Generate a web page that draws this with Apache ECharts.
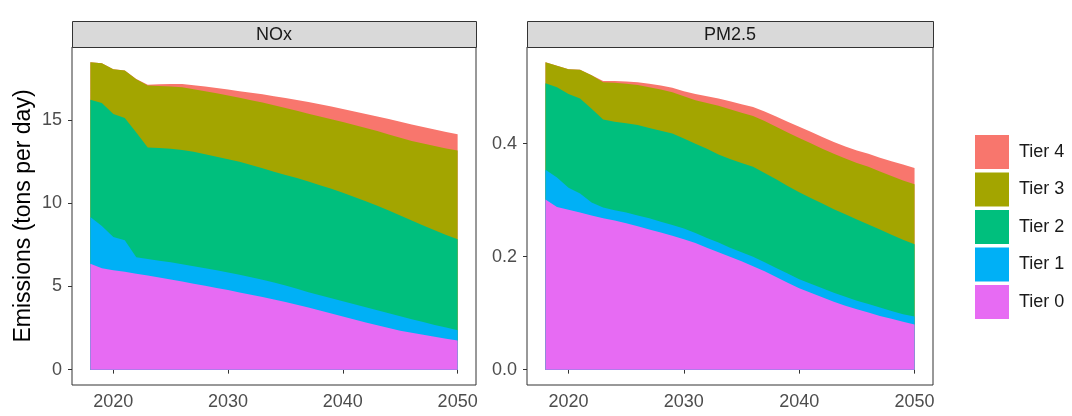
<!DOCTYPE html>
<html>
<head>
<meta charset="utf-8">
<script src="https://cdn.jsdelivr.net/npm/echarts@6/dist/echarts.min.js"></script>
<style>
  html, body { margin: 0; padding: 0; background: #ffffff; }
  #chart { width: 1072px; height: 416px; }
</style>
</head>
<body>
<div id="chart"></div>
<script>
// Projected emissions by engine tier, 2018-2050
const years = [2018, 2019, 2020, 2021, 2022, 2023, 2024, 2025, 2026, 2027, 2028,
  2029, 2030, 2031, 2032, 2033, 2034, 2035, 2036, 2037, 2038, 2039, 2040, 2041,
  2042, 2043, 2044, 2045, 2046, 2047, 2048, 2049, 2050];

const tierNames = ['Tier 0', 'Tier 1', 'Tier 2', 'Tier 3', 'Tier 4'];
const panelTitles = ['NOx', 'PM2.5'];
const xTicks = [2020, 2030, 2040, 2050];
const noxTicks = [0, 5, 10, 15];
const pmTicks = [0, 0.2, 0.4];

// NOx, tons per day
const noxTier0 = [6.37, 6.10, 5.98, 5.88, 5.77, 5.66, 5.54, 5.42, 5.30, 5.17, 5.04,
  4.91, 4.78, 4.64, 4.50, 4.36, 4.21, 4.06, 3.90, 3.73, 3.55, 3.37, 3.19, 3.01,
  2.84, 2.67, 2.50, 2.34, 2.21, 2.09, 1.97, 1.86, 1.75];
const noxTier1 = [2.81, 2.53, 1.99, 1.89, 0.98, 0.99, 1.01, 1.03, 1.04, 1.05, 1.06,
  1.06, 1.06, 1.06, 1.05, 1.04, 1.03, 1.00, 0.96, 0.92, 0.92, 0.92, 0.92, 0.92,
  0.91, 0.90, 0.89, 0.87, 0.82, 0.77, 0.72, 0.67, 0.62];
const noxTier2 = [7.04, 7.39, 7.39, 7.35, 7.51, 6.70, 6.77, 6.82, 6.86, 6.88, 6.85,
  6.83, 6.81, 6.80, 6.75, 6.70, 6.66, 6.64, 6.66, 6.66, 6.62, 6.58, 6.52, 6.45,
  6.37, 6.28, 6.17, 6.05, 5.93, 5.81, 5.69, 5.57, 5.46];
const noxTier3 = [2.25, 2.39, 2.69, 2.86, 3.19, 3.73, 3.73, 3.75, 3.77, 3.76, 3.79,
  3.81, 3.83, 3.84, 3.90, 3.95, 3.99, 4.03, 4.04, 4.07, 4.13, 4.18, 4.25, 4.32,
  4.40, 4.49, 4.58, 4.68, 4.79, 4.92, 5.06, 5.19, 5.34];
const noxTier4 = [0, 0, 0, 0, 0.02, 0.05, 0.10, 0.15, 0.20, 0.24, 0.28,
  0.32, 0.36, 0.40, 0.45, 0.50, 0.55, 0.60, 0.65, 0.70, 0.73, 0.76, 0.79, 0.82,
  0.85, 0.88, 0.92, 0.96, 0.99, 1.00, 1.00, 1.00, 0.98];

// PM2.5, tons per day
const pmTier0 = [0.301, 0.288, 0.283, 0.278, 0.273, 0.268, 0.264, 0.259, 0.254, 0.248, 0.243,
  0.237, 0.231, 0.224, 0.216, 0.208, 0.200, 0.192, 0.183, 0.174, 0.164, 0.154, 0.144, 0.136,
  0.128, 0.120, 0.113, 0.107, 0.101, 0.095, 0.090, 0.085, 0.080];
const pmTier1 = [0.053, 0.052, 0.039, 0.034, 0.023, 0.019, 0.018, 0.019, 0.019, 0.020, 0.019,
  0.019, 0.019, 0.018, 0.017, 0.017, 0.016, 0.016, 0.017, 0.016, 0.016, 0.016, 0.016, 0.016,
  0.016, 0.016, 0.016, 0.015, 0.015, 0.015, 0.014, 0.013, 0.014];
const pmTier2 = [0.153, 0.160, 0.166, 0.168, 0.166, 0.156, 0.157, 0.158, 0.160, 0.160, 0.161,
  0.162, 0.159, 0.158, 0.158, 0.156, 0.157, 0.158, 0.159, 0.158, 0.157, 0.155, 0.154, 0.152,
  0.150, 0.148, 0.146, 0.144, 0.141, 0.138, 0.135, 0.132, 0.128];
const pmTier3 = [0.037, 0.038, 0.044, 0.051, 0.059, 0.066, 0.069, 0.070, 0.071, 0.072, 0.073,
  0.073, 0.075, 0.077, 0.081, 0.086, 0.088, 0.089, 0.090, 0.092, 0.093, 0.095, 0.096, 0.097,
  0.097, 0.098, 0.099, 0.100, 0.102, 0.103, 0.104, 0.105, 0.106];
const pmTier4 = [0, 0, 0, 0, 0, 0.002, 0.003, 0.004, 0.005, 0.006, 0.007,
  0.008, 0.009, 0.011, 0.012, 0.013, 0.014, 0.015, 0.016, 0.017, 0.018, 0.019, 0.020, 0.020,
  0.021, 0.021, 0.021, 0.022, 0.023, 0.024, 0.026, 0.028, 0.029];

const tierColors = ['#E76BF3', '#00B0F6', '#00BF7D', '#A3A500', '#F8766D'];

const FONT = '"Liberation Sans", Arial, sans-serif';
const W = 1072, H = 416;
// panel boxes (left, right edges), shared top/bottom
const panels = [{ l: 72, r: 476 }, { l: 527, r: 933 }];
const panelTop = 47, panelBottom = 385, stripTop = 21;

// ggplot-style 5% expansion around the data range
function expanded(lo, hi) {
  const pad = (hi - lo) * 0.05;
  return [lo - pad, hi + pad];
}
// running totals: tier k's upper edge is the sum of tiers 0..k
function cumulative(groups) {
  const out = [];
  let acc = years.map(() => 0);
  groups.forEach(g => {
    acc = acc.map((a, i) => a + g[i]);
    out.push(acc.slice());
  });
  return out;
}

const noxGroups = [noxTier0, noxTier1, noxTier2, noxTier3, noxTier4];
const pmGroups = [pmTier0, pmTier1, pmTier2, pmTier3, pmTier4];
const noxTops = cumulative(noxGroups);
const pmTops = cumulative(pmGroups);
const xRange = expanded(years[0], years[years.length - 1]);
const yRanges = [
  expanded(0, Math.max(...noxTops[4])),
  expanded(0, Math.max(...pmTops[4]))
];

const grids = panels.map(p => ({
  left: p.l, right: W - p.r, top: panelTop, bottom: H - panelBottom,
  show: true, borderColor: '#333333', borderWidth: 1, backgroundColor: '#ffffff'
}));

const xAxes = panels.map((p, i) => ({
  type: 'value', gridIndex: i, min: xRange[0], max: xRange[1],
  axisLine: { show: false },
  splitLine: { show: false },
  axisTick: { show: true, length: 4, customValues: xTicks, lineStyle: { color: '#333333', width: 1 } },
  axisLabel: { customValues: xTicks, color: '#4D4D4D', fontFamily: FONT, fontSize: 18, margin: 8,
    formatter: v => String(v) }
}));

const yAxes = [0, 1].map(i => ({
  type: 'value', gridIndex: i, min: yRanges[i][0], max: yRanges[i][1],
  axisLine: { show: false },
  splitLine: { show: false },
  axisTick: { show: true, length: 4, customValues: i === 0 ? noxTicks : pmTicks,
    lineStyle: { color: '#333333', width: 1 } },
  axisLabel: { customValues: i === 0 ? noxTicks : pmTicks, color: '#4D4D4D', fontFamily: FONT,
    fontSize: 18, margin: 10,
    formatter: v => (i === 0 ? String(Math.round(v)) : v.toFixed(1)) },
  name: i === 0 ? 'Emissions (tons per day)' : '',
  nameLocation: 'middle', nameRotate: 90, nameGap: 37,
  nameTextStyle: { color: '#000000', fontFamily: FONT, fontSize: 23 }
}));

// Each tier is filled from zero up to its running total; the highest tier is
// painted first so the lower tiers sit in front of it.
const series = [];
[noxTops, pmTops].forEach((tops, pi) => {
  for (let ti = tops.length - 1; ti >= 0; ti--) {
    series.push({
      name: tierNames[ti],
      type: 'line',
      xAxisIndex: pi, yAxisIndex: pi,
      data: years.map((y, k) => [y, tops[ti][k]]),
      showSymbol: false, symbol: 'none', silent: true,
      lineStyle: { width: 0 },
      itemStyle: { color: tierColors[ti] },
      areaStyle: { color: tierColors[ti], opacity: 1, origin: 0 },
      z: 2
    });
  }
});

// facet strips above each panel
const graphics = [];
panels.forEach((p, i) => {
  graphics.push({
    type: 'rect', silent: true, z: 10,
    shape: { x: p.l + 0.5, y: stripTop + 0.5, width: p.r - p.l, height: panelTop - stripTop },
    style: { fill: '#D9D9D9', stroke: '#333333', lineWidth: 1 }
  });
  graphics.push({
    type: 'text', silent: true, z: 11,
    x: (p.l + p.r) / 2, y: (stripTop + panelTop) / 2 + 1,
    style: { text: panelTitles[i], fill: '#1A1A1A', font: '18px ' + FONT,
      textAlign: 'center', textVerticalAlign: 'middle' }
  });
});

const chart = echarts.init(document.getElementById('chart'), null, { renderer: 'canvas' });
chart.setOption({
  backgroundColor: '#ffffff',
  animation: false,
  grid: grids,
  xAxis: xAxes,
  yAxis: yAxes,
  legend: {
    orient: 'vertical', left: 970, top: 130,
    data: tierNames.slice().reverse(),
    icon: 'rect', itemWidth: 34, itemHeight: 34, itemGap: 3.5,
    selectedMode: false,
    textStyle: { color: '#1A1A1A', fontFamily: FONT, fontSize: 18, padding: [0, 0, 0, 5] }
  },
  series: series,
  graphic: graphics
});
</script>
</body>
</html>
